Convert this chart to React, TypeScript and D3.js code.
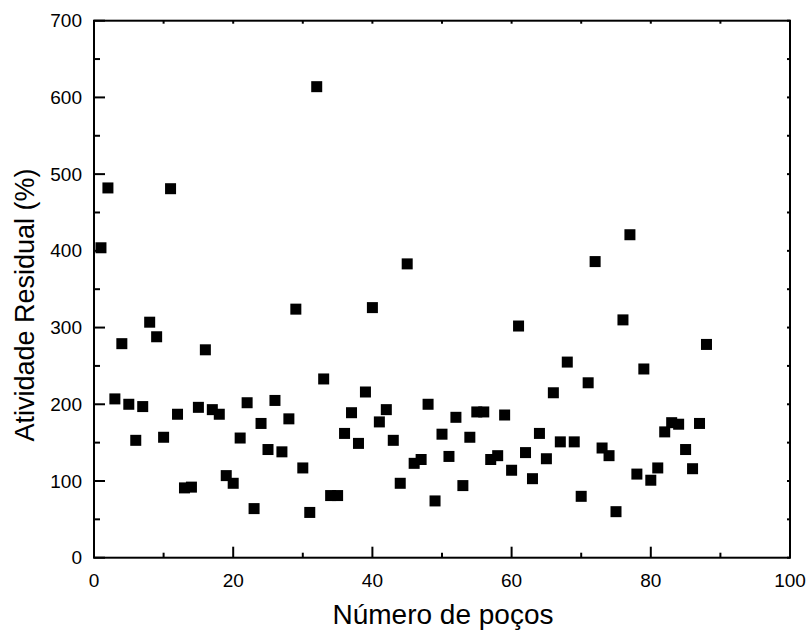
import React from "react";
import * as d3 from "d3";

const wells: number[] = Array.from({ length: 88 }, (_, i) => i + 1);
const activity: number[] = [
  404, 482, 207, 279, 200, 153, 197, 307, 288, 157,
  481, 187, 91, 92, 196, 271, 193, 187, 107, 97,
  156, 202, 64, 175, 141, 205, 138, 181, 324, 117,
  59, 614, 233, 81, 81, 162, 189, 149, 216, 326,
  177, 193, 153, 97, 383, 123, 128, 200, 74, 161,
  132, 183, 94, 157, 190, 190, 128, 133, 186, 114,
  302, 137, 103, 162, 129, 215, 151, 255, 151, 80,
  228, 386, 143, 133, 60, 310, 421, 109, 246, 101,
  117, 164, 176, 174, 141, 116, 175, 278,
];
const xTicks = [0, 20, 40, 60, 80, 100];
const yTicks = [0, 100, 200, 300, 400, 500, 600, 700];
const xTitle = "Número de poços";
const yTitle = "Atividade Residual (%)";

const W = 810, H = 632;
const L = 94, R = 790, T = 20.7, B = 557.7;

export default function App() {
  const x = d3.scaleLinear().domain([0, 100]).range([L, R]);
  const y = d3.scaleLinear().domain([0, 700]).range([B, T]);
  const xMinor = d3.range(0, 101, 10);
  const yMinor = d3.range(0, 701, 50);
  const font = "'Liberation Sans', Arial, sans-serif";
  const size = 11;
  return (
    <svg width={W} height={H} style={{ position: "absolute", left: 0, top: 0, background: "#fff" }}>
      <rect x={0} y={0} width={W} height={H} fill="#fff" />
      {wells.map((w, i) => (
        <rect key={i} x={x(w) - size / 2} y={y(activity[i]) - size / 2} width={size} height={size} fill="#000" />
      ))}
      <rect x={L} y={T} width={R - L} height={B - T} fill="none" stroke="#000" strokeWidth={2} />
      {xMinor.map((v) => (
        <line key={"bx" + v} x1={x(v)} x2={x(v)} y1={B} y2={B - (v % 20 === 0 ? 11 : 5)} stroke="#000" strokeWidth={2} />
      ))}
      {xMinor.map((v) => (
        <line key={"tx" + v} x1={x(v)} x2={x(v)} y1={T} y2={T + 3} stroke="#000" strokeWidth={2} />
      ))}
      {yMinor.map((v) => (
        <line key={"ly" + v} x1={L} x2={L + (v % 100 === 0 ? 11 : 6)} y1={y(v)} y2={y(v)} stroke="#000" strokeWidth={2} />
      ))}
      {yMinor.map((v) => (
        <line key={"ry" + v} x1={R} x2={R - 3} y1={y(v)} y2={y(v)} stroke="#000" strokeWidth={2} />
      ))}
      {xTicks.map((v) => (
        <text key={"xl" + v} x={x(v)} y={587} textAnchor="middle" fontFamily={font} fontSize={19} fill="#000">{v}</text>
      ))}
      {yTicks.map((v) => (
        <text key={"yl" + v} x={82} y={y(v)} dy="0.35em" textAnchor="end" fontFamily={font} fontSize={19} fill="#000">{v}</text>
      ))}
      <text x={443} y={624} textAnchor="middle" fontFamily={font} fontSize={28} fill="#000">{xTitle}</text>
      <text transform={`translate(34,305) rotate(-90)`} textAnchor="middle" fontFamily={font} fontSize={27} fill="#000">{yTitle}</text>
    </svg>
  );
}
